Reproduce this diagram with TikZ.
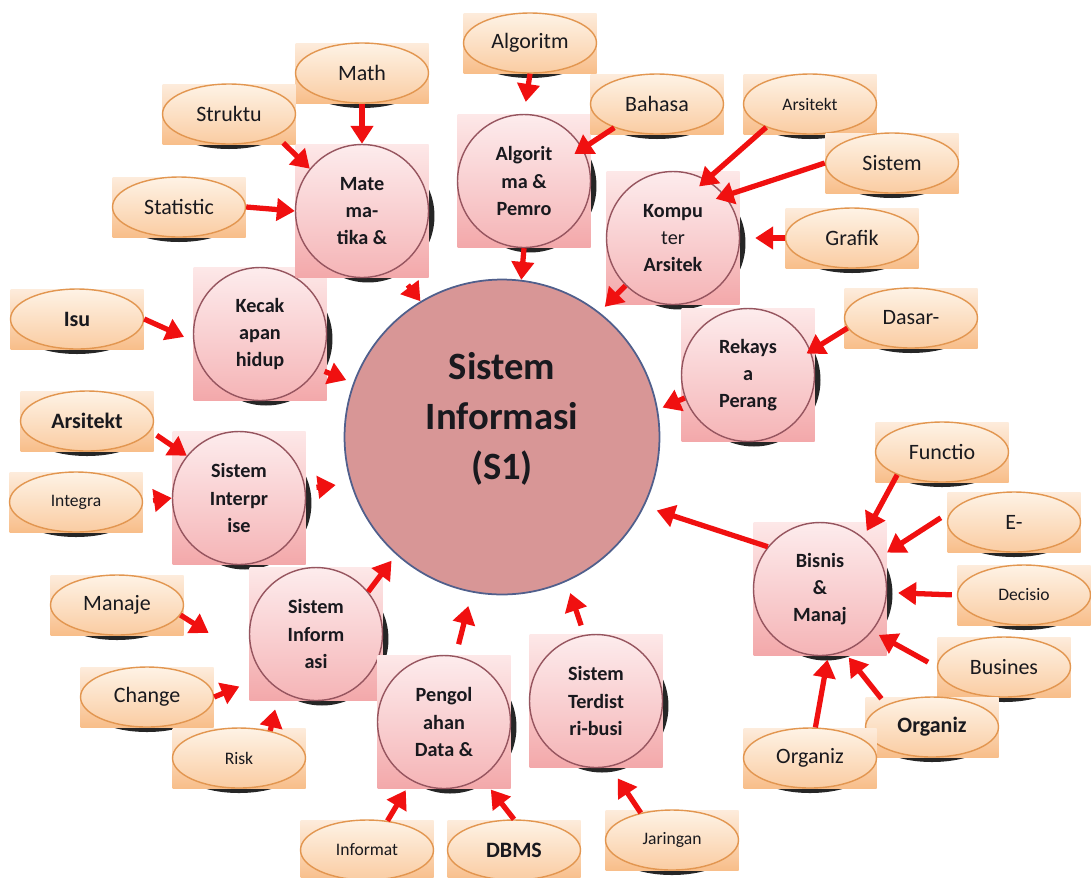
\documentclass[tikz,border=0pt]{standalone}
\usepackage{fontspec}
\setmainfont{Carlito}
\usetikzlibrary{arrows.meta, positioning, shapes.geometric, calc}
\definecolor{hubFill}{RGB}{216,150,150}
\definecolor{hubEdge}{RGB}{80,95,140}
\definecolor{boxTop}{RGB}{253,232,232}
\definecolor{boxBot}{RGB}{243,168,170}
\definecolor{topicTop}{RGB}{253,236,237}
\definecolor{topicBot}{RGB}{245,180,182}
\definecolor{topicEdge}{RGB}{150,85,95}
\definecolor{keyBoxTop}{RGB}{253,236,220}
\definecolor{keyBoxBot}{RGB}{248,190,138}
\definecolor{keyTop}{RGB}{254,243,230}
\definecolor{keyBot}{RGB}{250,204,162}
\definecolor{keyEdge}{RGB}{226,150,80}
\definecolor{arrowRed}{RGB}{240,16,16}
\definecolor{darkText}{RGB}{25,25,30}
\tikzset{
    hub/.style={
        circle,
        draw=hubEdge,
        line width=1pt,
        fill=hubFill,
        minimum size=6.3cm,
        align=center,
        text=darkText,
        text depth=0.85cm,
        font=\bfseries\fontsize{22}{28.5}\selectfont
    },
    topic/.style={
        circle,
        draw=topicEdge,
        line width=0.8pt,
        top color=topicTop,
        bottom color=topicBot,
        minimum size=2.66cm,
        inner sep=0pt,
        align=center,
        text=darkText,
        font=\bfseries\fontsize{11.5}{15.5}\selectfont
    },
    keyword/.style={
        ellipse,
        draw=keyEdge,
        line width=0.8pt,
        top color=keyTop,
        bottom color=keyBot,
        minimum width=2.66cm,
        minimum height=1.2cm,
        inner sep=0pt,
        text=darkText,
        font=\fontsize{12.5}{14}\selectfont
    },
    smallkey/.style={keyword, font=\fontsize{10}{12}\selectfont},
    boldkey/.style={keyword, font=\bfseries\fontsize{12.5}{14}\selectfont},
    redarrow/.style={-{Triangle[length=0.36cm, width=0.44cm]}, line width=3pt, draw=arrowRed}
}

\begin{document}
\begin{tikzpicture}[x=0.02cm, y=-0.02cm]
    \useasboundingbox (0,0) rectangle (1091,877);

    \node[hub] (main) at (502,437) {Sistem\\Informasi\\(S1)};

    % topics round the hub
    \foreach \nm/\px/\py/\txt in {kecak/260/334/{Kecak\\apan\\hidup}, mate/362/211/{Mate\\ma-\\tika \&},
        algo/524/181/{Algorit\\ma \&\\Pemro}, komp/673/238/{Kompu\\{\mdseries ter}\\Arsitek},
        rek/748/375/{Rekays\\a\\Perang}, inter/239/498/{Sistem\\Interpr\\ise},
        si/316/634/{Sistem\\Inform\\asi}, peng/444/722/{Pengol\\ahan\\Data \&},
        terd/596/701/{Sistem\\Terdist\\ri-busi}, bisnis/820/589/{Bisnis\\\&\\Manaj}} {
        \fill[black!85] (\px+6,\py+5) circle (1.33cm);
        \shade[top color=boxTop, bottom color=boxBot] (\px-66.5,\py-66.5) rectangle (\px+66.5,\py+66.5);
        \node[topic] (\nm) at (\px,\py) {\txt};
    }

    % keywords
    \foreach \nm/\px/\py/\sty/\txt in {math/362/73/keyword/Math, struktu/229/114/keyword/Struktu,
        statistic/179/207/keyword/Statistic, algoritm/530/43/keyword/Algoritm,
        bahasa/657/104/keyword/Bahasa, arsitektA/810/104/smallkey/Arsitekt,
        sistem/892/163/keyword/Sistem, grafik/852/238/keyword/Grafik,
        dasar/911/318/keyword/Dasar-, isu/77/319/boldkey/Isu,
        arsitektB/87/421/boldkey/Arsitekt, integra/76/502/smallkey/Integra,
        functio/942/452/keyword/Functio, eb/1014/522/keyword/E-,
        decisio/1024/595/smallkey/Decisio, busines/1004/667/keyword/Busines,
        organizA/932/727/boldkey/Organiz, organizB/810/758/keyword/Organiz,
        manaje/117/605/keyword/Manaje, change/147/697/keyword/Change,
        risk/239/758/smallkey/Risk, informat/367/850/smallkey/Informat,
        dbms/514/850/boldkey/DBMS, jaringan/672/840/smallkey/Jaringan} {
        \fill[black!85] (\px,\py+5) ellipse (1.3cm and 0.6cm);
        \shade[top color=keyBoxTop, bottom color=keyBoxBot] (\px-66.5,\py-30) rectangle (\px+66.5,\py+30);
        \node[\sty] (\nm) at (\px,\py) {\txt};
    }

    % arrows
    \draw[redarrow] (math.south) -- (mate.north);
    \draw[redarrow, shorten <=0.2cm] (struktu.-25) -- (mate.141);
    \draw[redarrow] (statistic.east) -- (mate.west);
    \draw[redarrow, shorten <=0.4cm] (mate.-60) -- (main.121);
    \draw[redarrow, shorten >=0.24cm] (algoritm.south) -- (algo.north);
    \draw[redarrow, shorten >=-0.2cm] (bahasa.209) -- (algo.29);
    \draw[redarrow] (algo.south) -- (main.83);
    \draw[redarrow, shorten >=-0.2cm] (arsitektA.208) -- (komp.60);
    \draw[redarrow, shorten >=-0.2cm] (sistem.west) -- (komp.39);
    \draw[redarrow, shorten >=0.3cm] (grafik.west) -- (komp.east);
    \draw[redarrow, shorten >=0.15cm] (komp.south west) -- (main.52);
    \draw[redarrow, shorten >=-0.1cm] (dasar.189) -- (rek.21);
    \draw[redarrow, shorten >=0.1cm] (rek.200) -- (main.10);
    \draw[redarrow, shorten >=0.2cm] (isu.east) -- (kecak.186);
    \draw[redarrow, shorten <=0.15cm, shorten >=0.15cm] (kecak.-31) -- (main.160);
    \draw[redarrow, shorten <=0.15cm] (arsitektB.-9) -- (inter.141);
    \draw[redarrow, shorten <=0.2cm] (integra.east) -- (inter.west);
    \draw[redarrow, shorten <=0.22cm, shorten >=0.3cm] (inter.8) -- (main.197);
    \draw[redarrow, shorten >=0.15cm] (si.39) -- (main.228);
    \draw[redarrow, shorten >=1.1cm] (manaje.-9) -- (si.205);
    \draw[redarrow, shorten >=0.53cm] (change.east) -- (si.219);
    \draw[redarrow, shorten >=0.39cm] (risk.41) -- (si.237);
    \draw[redarrow, shorten <=0.24cm, shorten >=0.28cm] (peng.80) -- (main.259);
    \draw[redarrow, shorten >=0.22cm] (informat.55) -- (peng.241);
    \draw[redarrow, shorten >=0.3cm] (dbms.north) -- (peng.-56);
    \draw[redarrow, shorten <=0.2cm, shorten >=0.24cm] (terd.100) -- (main.-66);
    \draw[redarrow, shorten >=0.28cm] (jaringan.139) -- (terd.-78);
    \draw[redarrow, shorten >=0.26cm] (bisnis.141) -- (main.-26);
    \draw[redarrow, shorten >=0.15cm] (functio.207) -- (bisnis.50);
    \draw[redarrow, shorten <=0.25cm, shorten >=0.18cm] (eb.170) -- (bisnis.28);
    \draw[redarrow, shorten <=0.1cm, shorten >=0.22cm] (decisio.west) -- (bisnis.-3);
    \draw[redarrow, shorten <=0.2cm, shorten >=0.15cm] (busines.west) -- (bisnis.-39);
    \draw[redarrow, shorten <=0.15cm, shorten >=0.15cm] (organizA.154) -- (bisnis.-69);
    \draw[redarrow, shorten >=0.08cm] (organizB.80) -- (bisnis.-83);
\end{tikzpicture}
\end{document}
